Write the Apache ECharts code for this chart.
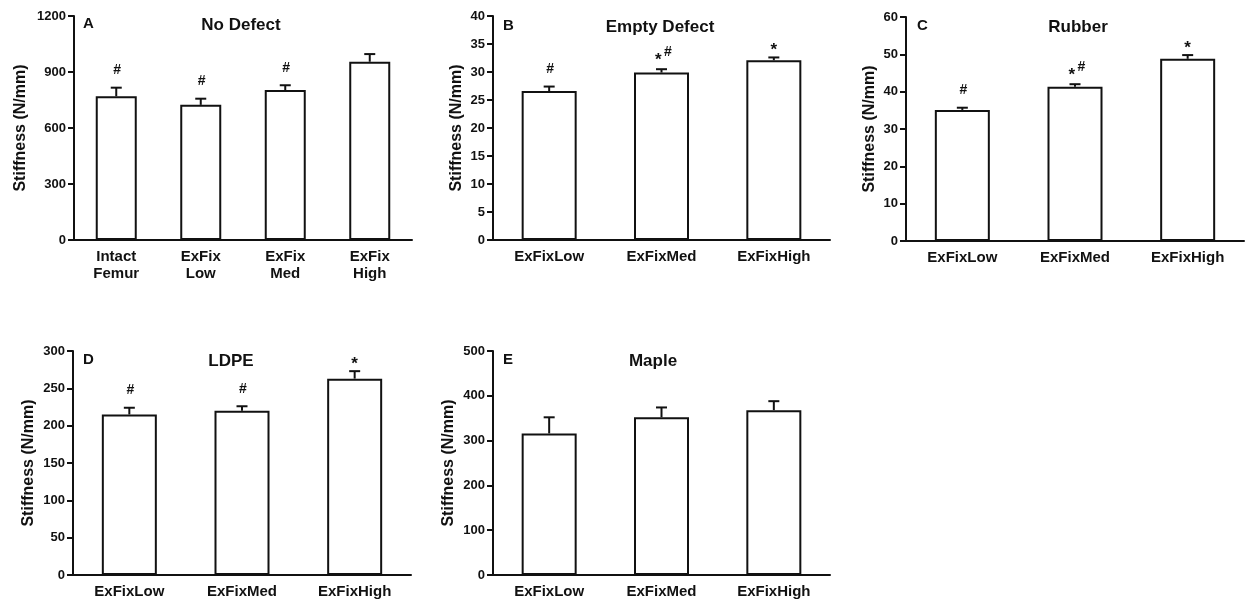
<!DOCTYPE html>
<html>
<head>
<meta charset="utf-8">
<script src="https://cdn.jsdelivr.net/npm/echarts@6/dist/echarts.min.js"></script>
<style>
  html, body { margin: 0; padding: 0; background: #fff; }
  #chart { width: 1246px; height: 601px; }
</style>
</head>
<body>
<div id="chart"></div>
<script>
// ---------- data ----------
const catsA = ['Intact\nFemur', 'ExFix\nLow', 'ExFix\nMed', 'ExFix\nHigh'];
const catsB = ['ExFixLow', 'ExFixMed', 'ExFixHigh'];
const catsC = ['ExFixLow', 'ExFixMed', 'ExFixHigh'];
const catsD = ['ExFixLow', 'ExFixMed', 'ExFixHigh'];
const catsE = ['ExFixLow', 'ExFixMed', 'ExFixHigh'];

const meanA = [770, 724, 803, 955];
const upperA = [816, 757, 829, 996];
const marksA = ['#', '#', '#', ''];

const meanB = [26.6, 29.9, 32.1];
const upperB = [27.4, 30.5, 32.6];
const marksB = ['#', '*#', '*'];

const meanC = [35.1, 41.3, 48.8];
const upperC = [35.7, 42.0, 49.8];
const marksC = ['#', '*#', '*'];

const meanD = [215, 220, 263];
const upperD = [224, 226, 273];
const marksD = ['#', '#', '*'];

const meanE = [316, 352, 368];
const upperE = [352, 374, 388];
const marksE = ['', '', ''];

const panelLetters = ['A', 'B', 'C', 'D', 'E'];
const panelTitles = ['No Defect', 'Empty Defect', 'Rubber', 'LDPE', 'Maple'];
const yMaxes = [1200, 40, 60, 300, 500];
const yIntervals = [300, 5, 10, 50, 100];
const yAxisTitle = 'Stiffness (N/mm)';

// ---------- layout ----------
const layout = [
  { grid: { left: 74, top: 16, width: 338, height: 224 }, barWidth: 41, nameGap: 45, letterX: 83, titleX: 241, headY: 25 },
  { grid: { left: 493, top: 16, width: 337, height: 224 }, barWidth: 55, nameGap: 28, letterX: 503, titleX: 660, headY: 27 },
  { grid: { left: 906, top: 17, width: 338, height: 224 }, barWidth: 55, nameGap: 28, letterX: 917, titleX: 1078, headY: 27 },
  { grid: { left: 73, top: 351, width: 338, height: 224 }, barWidth: 55, nameGap: 36, letterX: 83, titleX: 231, headY: 361 },
  { grid: { left: 493, top: 351, width: 337, height: 224 }, barWidth: 55, nameGap: 36, letterX: 503, titleX: 653, headY: 361 }
];

const panels = [
  { cats: catsA, mean: meanA, upper: upperA, marks: marksA },
  { cats: catsB, mean: meanB, upper: upperB, marks: marksB },
  { cats: catsC, mean: meanC, upper: upperC, marks: marksC },
  { cats: catsD, mean: meanD, upper: upperD, marks: marksD },
  { cats: catsE, mean: meanE, upper: upperE, marks: marksE }
];

const INK = '#111';
const FONT = '"Liberation Sans", Arial, Helvetica, sans-serif';

function makeRender(marks) {
  return function (params, api) {
    const i = api.value(0);
    const pMean = api.coord([i, api.value(1)]);
    const pUp = api.coord([i, api.value(2)]);
    const x = pMean[0];
    const yU = pUp[1];
    const st = { stroke: INK, lineWidth: 2 };
    const children = [
      { type: 'line', shape: { x1: x, y1: pMean[1], x2: x, y2: yU }, style: st },
      { type: 'line', shape: { x1: x - 5.5, y1: yU, x2: x + 5.5, y2: yU }, style: st }
    ];
    const m = marks[params.dataIndex];
    const hashStyle = (tx, ty) => ({ type: 'text', style: { text: '#', x: tx, y: ty, fill: INK, font: 'bold 14px ' + FONT, textAlign: 'center', textVerticalAlign: 'middle' } });
    const starStyle = (tx, ty) => ({ type: 'text', style: { text: '*', x: tx, y: ty, fill: INK, font: 'bold 17px ' + FONT, textAlign: 'center', textVerticalAlign: 'middle' } });
    if (m === '#') children.push(hashStyle(x + 1, yU - 17.5));
    else if (m === '*') children.push(starStyle(x, yU - 7));
    else if (m === '*#') {
      children.push(starStyle(x - 3.3, yU - 9));
      children.push(hashStyle(x + 6.5, yU - 17.5));
    }
    return { type: 'group', children: children };
  };
}

const grids = [], xAxes = [], yAxes = [], series = [], graphics = [];
panels.forEach((p, k) => {
  const L = layout[k];
  grids.push(L.grid);
  xAxes.push({
    type: 'category', gridIndex: k, data: p.cats,
    axisLine: { show: true, lineStyle: { color: INK, width: 2 } },
    axisTick: { show: false },
    axisLabel: { color: INK, fontFamily: FONT, fontWeight: 'bold', fontSize: 15, lineHeight: 17, margin: 8, interval: 0 }
  });
  yAxes.push({
    type: 'value', gridIndex: k, min: 0, max: yMaxes[k], interval: yIntervals[k],
    name: yAxisTitle, nameLocation: 'middle', nameGap: L.nameGap,
    nameTextStyle: { color: INK, fontFamily: FONT, fontWeight: 'bold', fontSize: 16 },
    axisLine: { show: true, lineStyle: { color: INK, width: 2 } },
    axisTick: { show: true, inside: false, length: 6, lineStyle: { color: INK, width: 2 } },
    splitLine: { show: false },
    axisLabel: { color: INK, fontFamily: FONT, fontWeight: 'bold', fontSize: 13, margin: 8, formatter: (v) => String(v) }
  });
  series.push({
    type: 'bar', xAxisIndex: k, yAxisIndex: k, data: p.mean, barWidth: L.barWidth,
    itemStyle: { color: '#fff', borderColor: INK, borderWidth: 2 },
    silent: true
  });
  series.push({
    type: 'custom', xAxisIndex: k, yAxisIndex: k, z: 5,
    data: p.mean.map((m, i) => [i, m, p.upper[i]]),
    renderItem: makeRender(p.marks), silent: true
  });
  graphics.push({
    type: 'text', left: L.letterX, top: L.headY - 9,
    style: { text: panelLetters[k], fill: INK, font: 'bold 15px ' + FONT }
  });
  graphics.push({
    type: 'text', x: L.titleX, y: L.headY,
    style: { text: panelTitles[k], fill: INK, font: 'bold 17px ' + FONT, textAlign: 'center', textVerticalAlign: 'middle' }
  });
});

const chart = echarts.init(document.getElementById('chart'), null, { renderer: 'canvas' });
chart.setOption({
  backgroundColor: '#fff',
  animation: false,
  grid: grids,
  xAxis: xAxes,
  yAxis: yAxes,
  series: series,
  graphic: graphics
});
</script>
</body>
</html>
